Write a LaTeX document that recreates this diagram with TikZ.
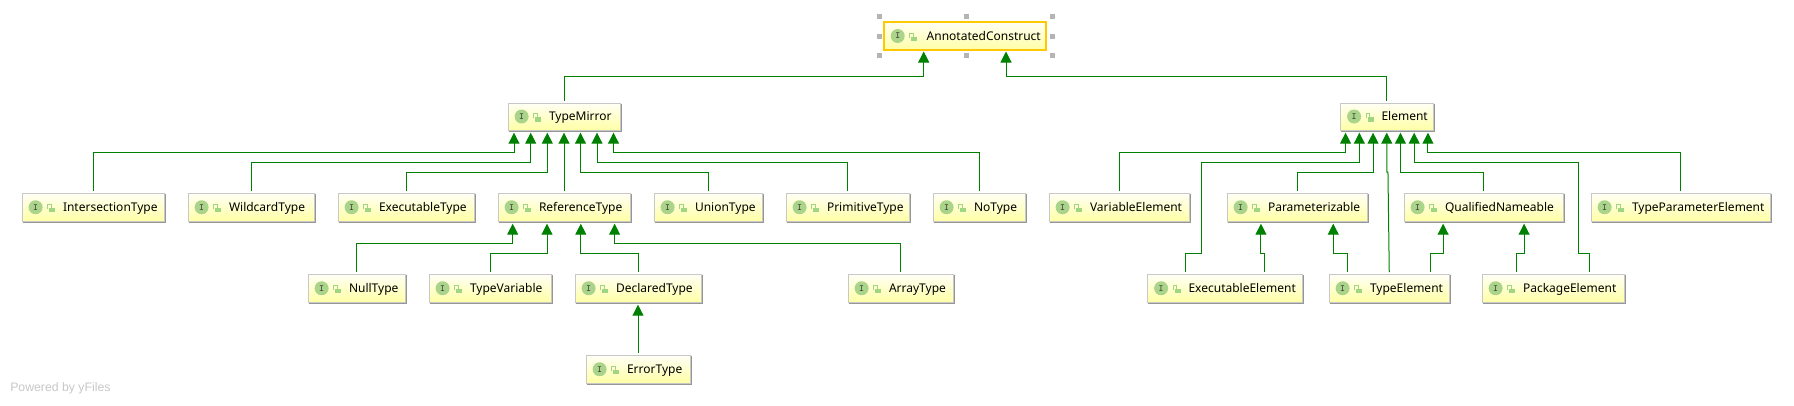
\documentclass[tikz,border=0pt]{standalone}
\usepackage{fontspec}
\setmainfont{Noto Sans}
\newfontfamily\yfont{Liberation Sans}
\usetikzlibrary{arrows.meta,calc}
\definecolor{edgegreen}{RGB}{0,128,0}
\definecolor{boxline}{RGB}{200,200,200}
\definecolor{boxshadow}{RGB}{150,150,150}
\definecolor{gold}{RGB}{255,200,0}
\definecolor{iconbg}{RGB}{170,212,138}
\definecolor{lockc}{RGB}{160,214,130}
\definecolor{handle}{RGB}{180,180,180}
\newdimen\px \px=0.75pt
\newcommand\tipgap{3}
\tikzset{
  x=0.75pt,y=-0.75pt,
  cbox/.style={rectangle,draw=boxline,line width=0.75pt,top color=yellow!4!white,bottom color=yellow!35!white,
    inner sep=0pt,outer sep=0pt,font=\fontsize{9pt}{11pt}\selectfont,align=left,text height=8.2pt,text depth=1.6pt},
  mainbox/.style={cbox,draw=gold,line width=1.5pt},
  ext/.style={draw=edgegreen,line width=0.75pt,-{Triangle[width=8.25pt,length=8.25pt]}},
  badge/.style={circle,fill=iconbg,inner sep=0pt,minimum size=10.5pt,text=black!75,font=\fontsize{7pt}{7pt}\ttfamily\bfseries},
}
\newcommand\cls[7][41]{%
  \draw[boxshadow,line width=0.75pt] (#3+0.5,#6+1) -- (#4+1,#6+1) -- (#4+1,#5+0.5);
  \node[#2,minimum width={(#4-#3)*0.75pt},minimum height={(#6-#5)*0.75pt},text width={(#4-#3)*0.75pt}]
    (#7) at ({(#3+#4)/2},{(#5+#6)/2}) {\hspace*{#1\px}\makebox[0pt][l]{#7}};
  \node[badge] (#7-i) at ($(#7.west)+(13.6,0)$) {I};
  \coordinate (lk) at ($(#7.west)+(30,0.5)$);
  \draw[lockc,line width=0.75pt] ($(lk)+(-4.2,1)$) -- ($(lk)+(-4.2,-3.2)$) -- ($(lk)+(-1,-3.2)$) -- ($(lk)+(-1,0)$);
  \fill[lockc] ($(lk)+(-2.7,0.2)$) rectangle ($(lk)+(3,4.5)$);
}
\newcommand\mcls[7][41]{%
  \node[#2,minimum width={(#4-#3)*0.75pt},minimum height={(#6-#5)*0.75pt},text width={(#4-#3)*0.75pt}]
    (#7) at ({(#3+#4)/2},{(#5+#6)/2}) {\hspace*{#1\px}\makebox[0pt][l]{#7}};
  \node[badge] (#7-i) at ($(#7.west)+(13.7,0)$) {I};
  \coordinate (lk) at ($(#7.west)+(30,0.5)$);
  \draw[lockc,line width=0.75pt] ($(lk)+(-4.2,1)$) -- ($(lk)+(-4.2,-3.2)$) -- ($(lk)+(-1,-3.2)$) -- ($(lk)+(-1,0)$);
  \fill[lockc] ($(lk)+(-2.7,0.2)$) rectangle ($(lk)+(3,4.5)$);
}
\newcommand\conn[5]{%
  \coordinate (c) at ($(#1.north)+(#2,-2.5)$);
  \coordinate (p) at ($(#4.south)+(#5,\tipgap)$);
  \draw[ext] (c) -- (c |- 0,#3) -- (p |- 0,#3) -- (p);
}
\begin{document}
\begin{tikzpicture}
\useasboundingbox (0,0) rectangle (1794,405);
\foreach \hx in {879,966,1052}{\foreach \hy in {16,36,55}{
  \ifnum\hx=966 \ifnum\hy=36 \else \fill[handle] (\hx-2.5,\hy-2.5) rectangle (\hx+2.5,\hy+2.5); \fi
  \else \fill[handle] (\hx-2.5,\hy-2.5) rectangle (\hx+2.5,\hy+2.5); \fi}}
\mcls[42.7]{mainbox}{884}{1046}{22}{50}{AnnotatedConstruct}
\cls{cbox}{508}{620}{103}{130}{TypeMirror}
\cls{cbox}{1340.5}{1433}{103}{130}{Element}
\cls{cbox}{22}{164}{193.5}{221}{IntersectionType}
\cls{cbox}{188}{314}{193.5}{221}{WildcardType}
\cls{cbox}{338}{474}{193.5}{221}{ExecutableType}
\cls{cbox}{498}{630}{193.5}{221}{ReferenceType}
\cls{cbox}{654}{762}{193.5}{221}{UnionType}
\cls{cbox}{786}{909}{193.5}{221}{PrimitiveType}
\cls{cbox}{933}{1025}{193.5}{221}{NoType}
\cls{cbox}{1049}{1189}{193.5}{221}{VariableElement}
\cls{cbox}{1227}{1367.5}{193.5}{221}{Parameterizable}
\cls{cbox}{1404}{1563}{193.5}{221}{QualifiedNameable}
\cls{cbox}{1591}{1770.5}{193.5}{221}{TypeParameterElement}
\cls{cbox}{308}{405.5}{274.5}{302}{NullType}
\cls{cbox}{429}{551}{274.5}{302}{TypeVariable}
\cls{cbox}{575}{701}{274.5}{302}{DeclaredType}
\cls{cbox}{848}{953.5}{274.5}{302}{ArrayType}
\cls{cbox}{1147.5}{1302.5}{274.5}{302}{ExecutableElement}
\cls{cbox}{1329}{1449.5}{274.5}{302}{TypeElement}
\cls{cbox}{1482}{1624}{274.5}{302}{PackageElement}
\cls{cbox}{586}{690}{355.5}{383}{ErrorType}
% to AnnotatedConstruct
\renewcommand\tipgap{1.5}
\conn{TypeMirror}{0}{76.3}{AnnotatedConstruct}{-41.3}
\conn{Element}{0}{76.3}{AnnotatedConstruct}{41}
\renewcommand\tipgap{2.7}
% to TypeMirror
\conn{IntersectionType}{0}{152.3}{TypeMirror}{-50}
\conn{WildcardType}{0}{162.3}{TypeMirror}{-33.3}
\conn{ExecutableType}{0}{172.3}{TypeMirror}{-16.7}
\draw[ext] ($(ReferenceType.north)+(0,-2.5)$) -- ($(TypeMirror.south)+(0,2.7)$);
\conn{UnionType}{0}{172.3}{TypeMirror}{16.5}
\conn{PrimitiveType}{0}{162.3}{TypeMirror}{33}
\conn{NoType}{0}{152.3}{TypeMirror}{49.5}
% to Element
\conn{VariableElement}{0}{152.3}{Element}{-41.2}
\conn{Parameterizable}{0}{172.3}{Element}{-13.7}
\conn{QualifiedNameable}{0}{172.3}{Element}{13.7}
\conn{TypeParameterElement}{0}{152.3}{Element}{41.2}
\coordinate (tc) at ($(TypeElement.north)+(0,-2.5)$);
\coordinate (tm) at ($(tc)+(-1.3,-100)$);
\coordinate (tp) at ($(Element.south)+(0,2.7)$);
\draw[ext] (tc) -- (tm) -- (tp |- tm) -- (tp);
% to ReferenceType
\conn{NullType}{0}{243.3}{ReferenceType}{-51.3}
\conn{TypeVariable}{0}{253.3}{ReferenceType}{-17}
\conn{DeclaredType}{0}{253.3}{ReferenceType}{16.8}
\conn{ArrayType}{0}{243.3}{ReferenceType}{50.6}
\draw[ext] ($(ErrorType.north)+(0,-2.5)$) -- ($(DeclaredType.south)+(0,2.7)$);
% third row to Parameterizable and QualifiedNameable
\conn{ExecutableElement}{39.2}{253.3}{Parameterizable}{-36.3}
\conn{TypeElement}{-41.9}{253.3}{Parameterizable}{36}
\conn{TypeElement}{41.2}{253.3}{QualifiedNameable}{-40.4}
\conn{PackageElement}{-36.6}{253.3}{QualifiedNameable}{40.6}
% long legs to Element
\coordinate (eu) at ($(Element.south)+(-27.4,2.7)$);
\draw[ext] ($(ExecutableElement.north)+(-39.6,-2.5)$) -- ++(0,-19) -- ++(16.3,0) -- (1201.7,162.3) -- (eu |- 0,162.3) -- (eu);
\coordinate (pu) at ($(Element.south)+(27.4,2.7)$);
\draw[ext] ($(PackageElement.north)+(36.8,-2.5)$) -- ++(0,-19) -- ++(-11.2,0) -- (1578.6,162.3) -- (pu |- 0,162.3) -- (pu);
\node[font=\yfont\fontsize{9.2pt}{11pt}\selectfont,text=black!22,anchor=west,inner sep=0pt] (powered) at (10,388) {Powered by yFiles};
\end{tikzpicture}
\end{document}
